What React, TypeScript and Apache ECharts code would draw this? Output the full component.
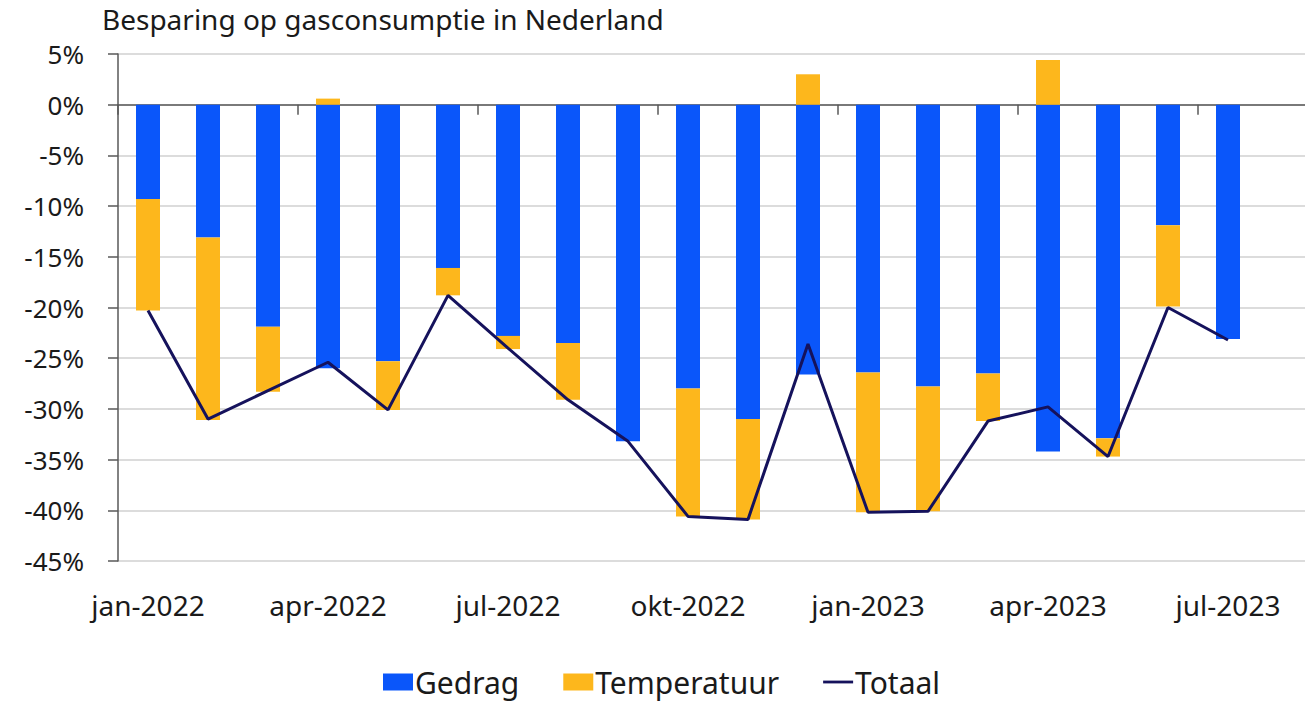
import React, { useEffect, useRef } from "react";
import * as echarts from "echarts";

const titleText = "Besparing op gasconsumptie in Nederland";

// 19 months plus one empty trailing slot (the plot area continues past the edge)
const months = [
  "jan-2022", "feb-2022", "mrt-2022", "apr-2022", "mei-2022", "jun-2022",
  "jul-2022", "aug-2022", "sep-2022", "okt-2022", "nov-2022", "dec-2022",
  "jan-2023", "feb-2023", "mrt-2023", "apr-2023", "mei-2023", "jun-2023",
  "jul-2023", "aug-2023",
];

const gedrag = [
  -9.3, -13.1, -21.9, -26.0, -25.3, -16.1, -22.8, -23.5, -33.2, -28.0,
  -31.0, -26.6, -26.4, -27.8, -26.5, -34.2, -32.9, -11.9, -23.1,
];

const temperatuur = [
  -11.0, -18.0, -6.4, 0.6, -4.8, -2.7, -1.3, -5.6, 0, -12.6,
  -9.9, 3.0, -13.8, -12.3, -4.7, 4.4, -1.8, -8.0, 0,
];

const totaal = [
  -20.3, -31.0, -28.2, -25.4, -30.1, -18.8, -24.0, -29.1, -33.2, -40.6,
  -40.9, -23.6, -40.2, -40.1, -31.2, -29.8, -34.7, -20.0, -23.2,
];

const FONT = "'Noto Sans', 'Open Sans', sans-serif";
const TEXT = "#1a1a1a";
const AXIS = "#595959";

export default function App() {
  const ref = useRef<HTMLDivElement>(null);

  useEffect(() => {
    if (!ref.current) return;
    const chart = echarts.init(ref.current, undefined, { renderer: "svg" });
    chart.setOption({
      animation: false,
      backgroundColor: "#ffffff",
      textStyle: { fontFamily: FONT },
      title: {
        text: titleText,
        left: 102,
        top: 5,
        padding: 0,
        textStyle: { fontFamily: FONT, fontSize: 28, fontWeight: "normal", color: TEXT },
      },
      legend: {
        left: 383,
        top: 667,
        padding: 0,
        itemWidth: 30,
        itemHeight: 17,
        itemGap: 44,
        textStyle: { fontFamily: FONT, fontSize: 30, color: TEXT, padding: [0, 0, 0, -3] },
        data: [
          { name: "Gedrag", icon: "rect" },
          { name: "Temperatuur", icon: "rect" },
          { name: "Totaal", icon: "path://M0,0L32,0L32,3L0,3Z" },
        ],
      },
      grid: { left: 118, top: 54, bottom: 141, right: 0, containLabel: false },
      xAxis: [
        {
          type: "category",
          data: months,
          position: "bottom",
          axisLine: { show: false, onZero: false },
          axisTick: { show: false },
          axisLabel: {
            interval: 2,
            margin: 30,
            fontSize: 28,
            color: TEXT,
            fontFamily: FONT,
          },
          splitLine: { show: false },
        },
        {
          type: "category",
          data: months,
          position: "bottom",
          axisLine: { show: true, onZero: true, lineStyle: { color: AXIS, width: 1.5 } },
          axisTick: { show: true, interval: 2, length: 10, lineStyle: { color: AXIS, width: 1.5 } },
          axisLabel: { show: false },
          splitLine: { show: false },
        },
      ],
      yAxis: {
        type: "value",
        min: -45,
        max: 5,
        interval: 5,
        axisLine: { show: true, lineStyle: { color: AXIS, width: 1.5 } },
        axisTick: { show: true, length: 10, lineStyle: { color: AXIS, width: 1.5 } },
        axisLabel: {
          formatter: "{value}%",
          fontSize: 26,
          margin: 34,
          color: TEXT,
          fontFamily: FONT,
        },
        splitLine: { show: true, lineStyle: { color: "#dcdcdc", width: 2 } },
      },
      series: [
        {
          name: "Gedrag",
          type: "bar",
          stack: "total",
          barWidth: 24,
          xAxisIndex: 0,
          itemStyle: { color: "#0a56fa" },
          data: gedrag,
        },
        {
          name: "Temperatuur",
          type: "bar",
          stack: "total",
          barWidth: 24,
          xAxisIndex: 0,
          itemStyle: { color: "#fdb71c" },
          data: temperatuur,
        },
        {
          name: "Totaal",
          type: "line",
          xAxisIndex: 0,
          symbol: "none",
          z: 5,
          lineStyle: { color: "#15125c", width: 3 },
          itemStyle: { color: "#15125c" },
          data: totaal,
        },
      ],
    });
    return () => chart.dispose();
  }, []);

  return (
    <div
      style={{
        position: "absolute",
        left: 0,
        top: 0,
        width: 1305,
        height: 702,
        overflow: "hidden",
        background: "#ffffff",
      }}
    >
      <div ref={ref} style={{ width: 1318, height: 702 }} />
    </div>
  );
}
